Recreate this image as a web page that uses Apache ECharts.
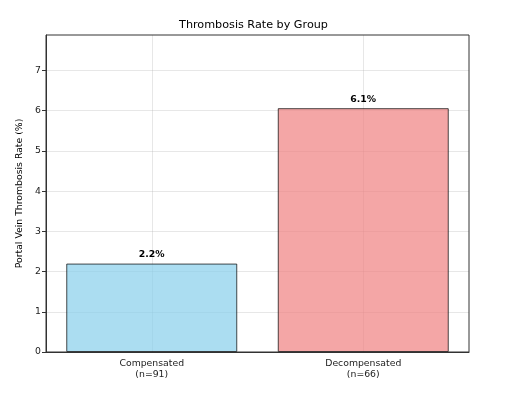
<!DOCTYPE html>
<html>
<head>
<meta charset="utf-8">
<script src="https://cdn.jsdelivr.net/npm/echarts@6/dist/echarts.min.js"></script>
<style>
  html, body { margin: 0; padding: 0; background: #fff; }
  #chart { width: 507px; height: 401px; }
</style>
</head>
<body>
<div id="chart"></div>
<script>
// data
var groups = ['Compensated\n(n=91)', 'Decompensated\n(n=66)'];
var rates = [2.198, 6.061];
var rateLabels = ['2.2%', '6.1%'];
var barColors = ['rgba(135,206,235,0.7)', 'rgba(240,128,128,0.7)'];
var yTicks = [0, 1, 2, 3, 4, 5, 6, 7];

var font = 'DejaVu Sans';
var chart = echarts.init(document.getElementById('chart'));

var option = {
  animation: false,
  backgroundColor: '#fff',
  title: {
    text: 'Thrombosis Rate by Group',
    left: 'center',
    top: 15,
    textStyle: { fontFamily: font, fontSize: 11.2, fontWeight: 'normal', color: '#000' }
  },
  grid: { left: 46, right: 38, top: 35, bottom: 49, containLabel: false },
  xAxis: [{
    type: 'category',
    data: groups,
    boundaryGap: true,
    axisLine: { lineStyle: { color: '#333', width: 1 } },
    axisTick: { alignWithLabel: true, length: 4, lineStyle: { color: '#333' } },
    axisLabel: { fontFamily: font, fontSize: 9.3, color: '#222', margin: 6, lineHeight: 11 },
    splitLine: { show: false }
  }, {
    // hidden axis only used for the vertical grid lines at bar centres
    type: 'category',
    position: 'bottom',
    data: ['', '', '', '', ''],
    boundaryGap: false,
    axisLine: { show: false },
    axisTick: { show: false },
    axisLabel: { show: false },
    splitLine: {
      show: true,
      interval: function (i) { return i % 2 === 1; },
      lineStyle: { color: '#b0b0b0', opacity: 0.3, width: 1 }
    }
  }],
  yAxis: {
    type: 'value',
    min: 0,
    max: 7.88,
    interval: 1,
    name: 'Portal Vein Thrombosis Rate (%)',
    nameLocation: 'middle',
    nameGap: 22,
    nameTextStyle: { fontFamily: font, fontSize: 9.3, color: '#000' },
    axisLine: { show: true, lineStyle: { color: '#333', width: 1 } },
    axisTick: { show: true, length: 4, customValues: yTicks, lineStyle: { color: '#333' } },
    axisLabel: {
      fontFamily: font, fontSize: 9.3, color: '#222', margin: 5,
      customValues: yTicks
    },
    splitLine: { show: true, lineStyle: { color: '#b0b0b0', opacity: 0.3, width: 1 } }
  },
  series: [{
    type: 'bar',
    xAxisIndex: 0,
    barWidth: 171,
    data: rates.map(function (v, i) {
      return {
        value: v,
        itemStyle: { color: barColors[i], borderColor: 'rgba(0,0,0,0.7)', borderWidth: 1 },
        label: { formatter: rateLabels[i] }
      };
    }),
    label: {
      show: true,
      position: 'top',
      distance: 4,
      fontFamily: font,
      fontSize: 9.3,
      fontWeight: 'bold',
      color: '#000'
    }
  }]
};

chart.setOption(option);
// frame on top and right like the reference
chart.setOption({
  graphic: [{
    type: 'rect',
    silent: true,
    shape: { x: 46, y: 35, width: 507 - 46 - 38, height: 401 - 35 - 49 },
    style: { fill: 'none', stroke: '#333', lineWidth: 1 },
    z: 100
  }]
});
</script>
</body>
</html>
